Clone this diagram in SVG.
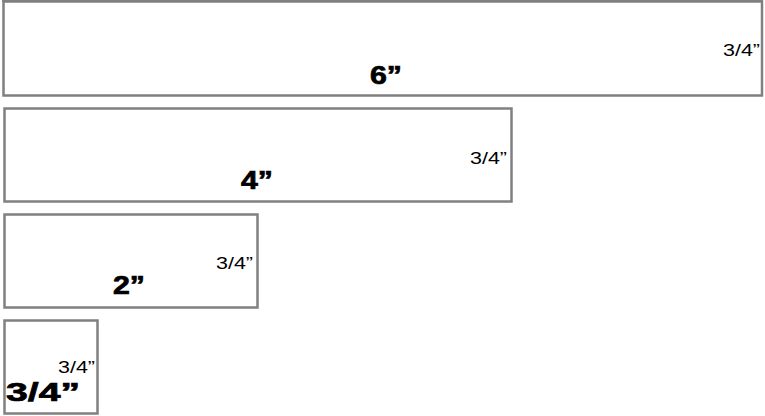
<svg xmlns="http://www.w3.org/2000/svg" width="765" height="416" viewBox="0 0 765 416">
<style>
.box{fill:#fff;stroke:#808080;stroke-width:2.5}
.big{font-family:"Liberation Sans",Arial,sans-serif;font-weight:bold;font-size:25px;fill:#000;stroke:#000;stroke-width:0.7}
.small{font-family:"Liberation Sans",Arial,sans-serif;font-weight:normal;font-size:17px;fill:#000}
</style>
<rect width="765" height="416" fill="#fff"/>
<g id="board-6">
<rect class="box" x="3.5" y="1.5" width="758.5" height="94"/>
<line x1="2" y1="1" x2="763" y2="1" stroke="#808080" stroke-width="2"/>
<text class="small" x="723" y="56" textLength="37" lengthAdjust="spacingAndGlyphs">3/4”</text>
<text class="big" x="370" y="84" textLength="32" lengthAdjust="spacingAndGlyphs">6”</text>
</g>
<g id="board-4">
<rect class="box" x="4.5" y="108.5" width="507" height="93"/>
<text class="small" x="470" y="164" textLength="37" lengthAdjust="spacingAndGlyphs">3/4”</text>
<text class="big" x="241" y="189" textLength="32" lengthAdjust="spacingAndGlyphs">4”</text>
</g>
<g id="board-2">
<rect class="box" x="4.5" y="214.5" width="253" height="93"/>
<text class="small" x="216" y="269" textLength="37" lengthAdjust="spacingAndGlyphs">3/4”</text>
<text class="big" x="113" y="294" textLength="32" lengthAdjust="spacingAndGlyphs">2”</text>
</g>
<g id="board-34">
<rect class="box" x="4.5" y="320.5" width="93" height="93"/>
<text class="small" x="58" y="373" textLength="37" lengthAdjust="spacingAndGlyphs">3/4”</text>
<text class="big" x="6" y="401" textLength="74" lengthAdjust="spacingAndGlyphs">3/4”</text>
</g>
</svg>
